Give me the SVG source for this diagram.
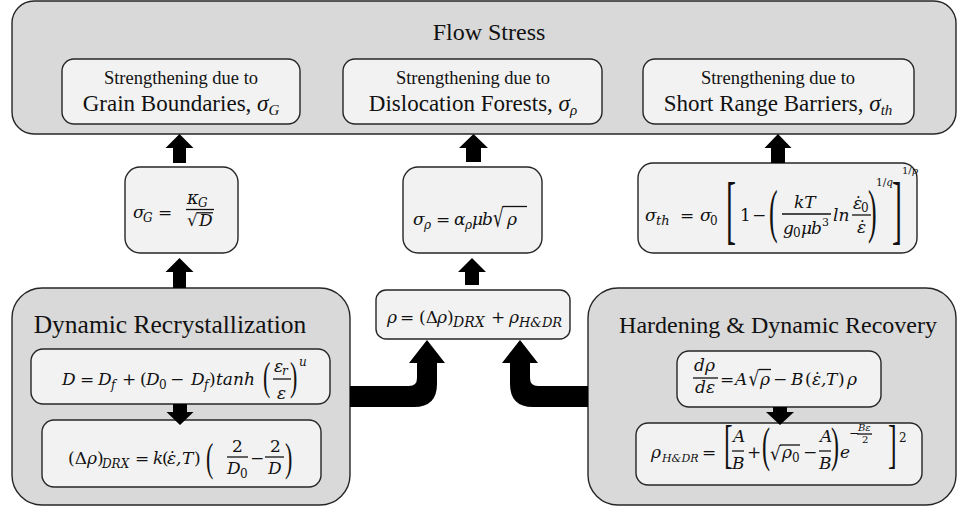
<svg xmlns="http://www.w3.org/2000/svg" width="958" height="510" viewBox="0 0 958 510">
<defs>
<style>
.big{fill:#d9d9d9;stroke:#262626;stroke-width:1.4}
.in{fill:#f2f2f2;stroke:#262626;stroke-width:1.4}
.t{font-family:"Liberation Serif","Times New Roman",serif;fill:#111}
.h1{font-size:24px}
.h2{font-size:23px}
.h3{font-size:18.5px}
.m{font-family:"DejaVu Serif",serif;font-style:italic;font-size:17px;fill:#111}
.u{font-style:normal}
.sb{font-size:12px}
.d{font-family:"Liberation Serif",serif;font-style:normal;fill:#111}
.r{font-family:"DejaVu Sans",sans-serif;font-style:normal;font-size:17px;fill:#111}
.bar{stroke:#111;stroke-width:1.3}
.arr{fill:#000}
</style>
</defs>
<rect width="958" height="510" fill="#fff"/>

<g id="flow-stress">
<rect class="big" x="12" y="1" width="944" height="133" rx="22"/>
<text class="t h1" x="489" y="40" text-anchor="middle">Flow Stress</text>
</g>
<g id="grain-boundaries">
<rect class="in" x="62" y="59" width="238" height="65" rx="12"/>
<text class="t h3" x="181" y="84" text-anchor="middle">Strengthening due to</text>
<text class="t h2" x="181" y="111" text-anchor="middle">Grain Boundaries, <tspan font-style="italic">σ</tspan><tspan font-style="italic" font-size="15" dy="4">G</tspan></text>
</g>
<g id="dislocation-forests">
<rect class="in" x="343" y="59" width="259" height="65" rx="12"/>
<text class="t h3" x="473" y="84" text-anchor="middle">Strengthening due to</text>
<text class="t h2" x="473" y="111" text-anchor="middle">Dislocation Forests, <tspan font-style="italic">σ</tspan><tspan font-style="italic" font-size="15" dy="4">ρ</tspan></text>
</g>
<g id="short-range-barriers">
<rect class="in" x="643" y="59" width="271" height="65" rx="12"/>
<text class="t h3" x="778" y="84" text-anchor="middle">Strengthening due to</text>
<text class="t h2" x="778" y="111" text-anchor="middle">Short Range Barriers, <tspan font-style="italic">σ</tspan><tspan font-style="italic" font-size="15" dy="4">th</tspan></text>
</g>

<g id="sigma-g">
<rect class="in" x="125" y="167" width="113" height="86" rx="15"/>
<text class="m"><tspan x="133" y="218">σ</tspan><tspan class="sb" x="143" y="222">G</tspan><tspan class="u" x="158" y="218">=</tspan><tspan x="187" y="204" font-size="18">κ</tspan><tspan class="sb" x="198" y="207">G</tspan><tspan x="199" y="226">D</tspan></text>
<text class="r" x="187" y="226">√</text>
<line class="bar" x1="186" y1="209.5" x2="214" y2="209.5"/>
<line class="bar" x1="197" y1="212.8" x2="213" y2="212.8"/>
</g>

<g id="sigma-rho">
<rect class="in" x="403" y="167" width="139" height="86" rx="15"/>
<text class="m"><tspan x="413" y="225">σ</tspan><tspan class="sb" x="424" y="229">ρ</tspan><tspan class="u" x="436" y="225">=</tspan><tspan x="454" y="225">α</tspan><tspan class="sb" x="465" y="229">ρ</tspan><tspan x="472" y="225">μ</tspan><tspan x="482" y="225">b</tspan><tspan x="507" y="225">ρ</tspan></text>
<text class="r" transform="translate(493,227) scale(1,1.5)">√</text>
<line class="bar" x1="503" y1="206.5" x2="527" y2="206.5"/>
</g>

<g id="sigma-th">
<rect class="in" x="638" y="163" width="279" height="90" rx="15"/>
<text class="m"><tspan x="645" y="221">σ</tspan><tspan x="656" y="225" font-size="13">th</tspan><tspan class="u" x="680" y="221">=</tspan><tspan x="700" y="221">σ</tspan><tspan class="sb u" x="710" y="225">0</tspan><tspan class="u" x="740" y="221">1</tspan><tspan class="u" x="752" y="221">−</tspan><tspan x="794" y="208">kT</tspan><tspan x="783" y="234">g</tspan><tspan class="sb u" x="793" y="237">0</tspan><tspan x="801" y="234">μ</tspan><tspan x="811" y="234">b</tspan><tspan class="u" x="822" y="226" font-size="11">3</tspan><tspan x="833" y="221">ln</tspan><tspan x="853" y="209">ε̇</tspan><tspan class="sb u" x="861" y="212">0</tspan><tspan x="857" y="233">ε̇</tspan><tspan x="876" y="186" font-size="10.5"><tspan class="u">1/</tspan>q</tspan><tspan x="902" y="174" font-size="10"><tspan class="u">1/</tspan>p</tspan></text>
<line class="bar" x1="782" y1="214" x2="831" y2="214"/>
<line class="bar" x1="852" y1="215" x2="871" y2="215"/>
<text class="d" font-size="30" transform="translate(726,235) scale(1,2.53)">[</text>
<text class="d" font-size="30" transform="translate(892,235) scale(1,2.53)">]</text>
<text class="d" font-size="26" transform="translate(769,231) scale(1,2.3)">(</text>
<text class="d" font-size="26" transform="translate(868,231) scale(1,2.3)">)</text>
</g>

<g id="rho-total">
<rect class="in" x="376" y="290" width="194" height="49" rx="10"/>
<text class="m" font-size="18"><tspan x="387" y="323">ρ</tspan><tspan class="u" x="400" y="323">=</tspan><tspan class="u" x="419" y="323">(Δ</tspan><tspan x="437" y="323">ρ</tspan><tspan class="u" x="447" y="323">)</tspan><tspan font-size="14" x="453" y="327">DRX</tspan><tspan class="u" x="491" y="323">+</tspan><tspan x="509" y="323">ρ</tspan><tspan font-size="13" x="519" y="327">H&amp;DR</tspan></text>
</g>

<g id="drx">
<rect class="big" x="12" y="288" width="338" height="217" rx="30"/>
<text class="t" font-size="25.5" x="170" y="333" text-anchor="middle">Dynamic Recrystallization</text>
<g id="drx-grain-size">
<rect class="in" x="31" y="349" width="299" height="55" rx="12"/>
<text class="m"><tspan x="62" y="385">D</tspan><tspan class="u" x="80" y="385">=</tspan><tspan x="98" y="385">D</tspan><tspan class="sb" x="111" y="389">f</tspan><tspan class="u" x="122" y="385">+</tspan><tspan class="u" x="140" y="385">(</tspan><tspan x="146" y="385">D</tspan><tspan class="sb u" x="159" y="389">0</tspan><tspan class="u" x="170" y="385">−</tspan><tspan x="191" y="385">D</tspan><tspan class="sb" x="204" y="389">f</tspan><tspan class="u" x="209" y="385">)</tspan><tspan x="216" y="385">tanh</tspan><tspan x="274" y="372">ε</tspan><tspan class="sb" x="282" y="375">r</tspan><tspan x="277" y="399">ε</tspan><tspan class="sb" x="299" y="366">u</tspan></text>
<line class="bar" x1="273" y1="379" x2="291" y2="379"/>
<text class="d" font-size="22" transform="translate(263,390) scale(1,1.78)">(</text>
<text class="d" font-size="22" transform="translate(290,390) scale(1,1.78)">)</text>
</g>
<g id="drx-density">
<rect class="in" x="42" y="420" width="279" height="67" rx="12"/>
<text class="m"><tspan class="u" x="68" y="464">(Δ</tspan><tspan x="87" y="464">ρ</tspan><tspan class="u" x="97" y="464">)</tspan><tspan class="sb" x="102" y="468">DRX</tspan><tspan class="u" x="135" y="464">=</tspan><tspan x="153" y="464">k</tspan><tspan class="u" x="162" y="464">(</tspan><tspan x="167" y="464">ε̇</tspan><tspan x="176" y="464">,</tspan><tspan x="182" y="464">T</tspan><tspan class="u" x="194" y="464">)</tspan><tspan class="u" x="232" y="452">2</tspan><tspan x="227" y="474">D</tspan><tspan class="sb u" x="240" y="478">0</tspan><tspan class="u" x="250" y="464">−</tspan><tspan class="u" x="270" y="452">2</tspan><tspan x="268" y="474">D</tspan></text>
<line class="bar" x1="227" y1="457" x2="248" y2="457"/>
<line class="bar" x1="265" y1="457" x2="284" y2="457"/>
<text class="d" font-size="22" transform="translate(206,471) scale(1,1.83)">(</text>
<text class="d" font-size="22" transform="translate(285,471) scale(1,1.83)">)</text>
</g>
</g>

<g id="hdr">
<rect class="big" x="588" y="288" width="368" height="217" rx="30"/>
<text class="t" font-size="24" x="778" y="333" text-anchor="middle">Hardening &amp; Dynamic Recovery</text>
<g id="hdr-rate">
<rect class="in" x="677" y="351" width="204" height="56" rx="12"/>
<text class="m"><tspan x="694" y="371">dρ</tspan><tspan x="695" y="393">dε</tspan><tspan class="u" x="720" y="385">=</tspan><tspan x="735" y="385">A</tspan><tspan x="760" y="385">ρ</tspan><tspan class="u" x="773" y="385">−</tspan><tspan x="791" y="385">B</tspan><tspan class="u" x="805" y="385">(</tspan><tspan x="812" y="385">ε̇</tspan><tspan x="821" y="385">,</tspan><tspan x="826" y="385">T</tspan><tspan class="u" x="838" y="385">)</tspan><tspan x="847" y="385">ρ</tspan></text>
<text class="r" transform="translate(748.5,386) scale(1,1.2)">√</text>
<line class="bar" x1="759" y1="369.5" x2="771" y2="369.5"/>
<line class="bar" x1="693" y1="378" x2="718" y2="378"/>
</g>
<g id="hdr-density">
<rect class="in" x="636" y="423" width="286" height="62" rx="12"/>
<text class="m"><tspan x="651" y="458">ρ</tspan><tspan x="662" y="462" font-size="11">H&amp;DR</tspan><tspan class="u" x="702" y="458">=</tspan><tspan x="733" y="442">A</tspan><tspan x="732" y="469">B</tspan><tspan class="u" x="747" y="458">+</tspan><tspan x="782" y="458">ρ</tspan><tspan class="sb u" x="792" y="462">0</tspan><tspan class="u" x="803" y="458">−</tspan><tspan x="820" y="442">A</tspan><tspan x="819" y="469">B</tspan><tspan x="840" y="458">e</tspan><tspan class="u" x="849" y="437" font-size="12">−</tspan><tspan x="858" y="431" font-size="10">Bε</tspan><tspan class="u" x="862" y="443" font-size="10">2</tspan><tspan class="sb u" x="899" y="442">2</tspan></text>
<text class="r" transform="translate(770,460) scale(1,1.1)">√</text>
<line class="bar" x1="732" y1="451" x2="744" y2="451"/>
<line class="bar" x1="819" y1="451" x2="831" y2="451"/>
<line class="bar" x1="780" y1="445" x2="800" y2="445"/>
<line class="bar" x1="857" y1="434" x2="872" y2="434"/>
<text class="d" font-size="26" transform="translate(724,462) scale(1,2.02)">[</text>
<text class="d" font-size="26" transform="translate(888,462) scale(1,2.02)">]</text>
<text class="d" font-size="24" transform="translate(762,461) scale(1,2)">(</text>
<text class="d" font-size="24" transform="translate(831,461) scale(1,2)">)</text>
</g>
</g>

<g id="connectors" class="arr">
<path d="M173,163 V148 H165.5 L179.5,134 L193.5,148 H186 V163 Z"/>
<path d="M173,288 V272 H165.5 L179.5,258 L193.5,272 H186 V288 Z"/>
<path d="M466,162 V148 H459 L473.5,134 L488,148 H481 V162 Z"/>
<path d="M465,285 V272 H458 L472,258 L486,272 H479 V285 Z"/>
<path d="M771,163 V148 H764.5 L778,134 L791.5,148 H785 V163 Z"/>
<path d="M173,404 V412 H166.5 L180,425 L193.5,412 H187 V404 Z"/>
<path d="M773,407 V412 H766 L780,425 L794,412 H787 V407 Z"/>
<path d="M350,386 H409 Q417,386 417,378 V363 H409 L427,340 L445,363 H437 V384 Q437,407 414,407 H350 Z"/>
<path d="M588,386 H538 Q530,386 530,378 V363 H538 L520,340 L502,363 H510 V384 Q510,407 533,407 H588 Z"/>
</g>
</svg>
